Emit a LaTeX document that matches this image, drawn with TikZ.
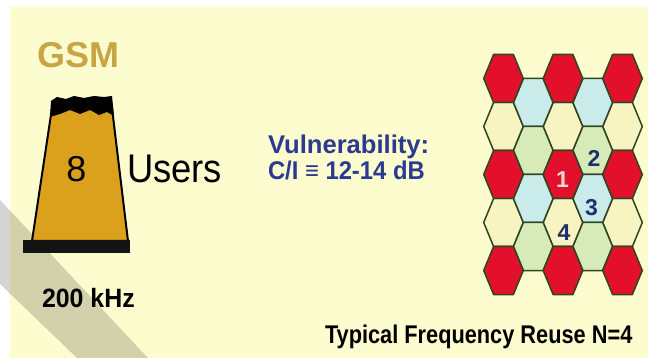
\documentclass[tikz,border=0pt]{standalone}
\usepackage{fontspec}
\usepackage{graphicx}
\setmainfont{Liberation Sans}
\definecolor{bgyellow}{HTML}{FDFCCE}
\definecolor{gsmgold}{HTML}{C8A648}
\definecolor{towerfill}{HTML}{DBA11C}
\definecolor{vulblue}{HTML}{2B3990}
\definecolor{numblue}{HTML}{1F2F6E}
\definecolor{hexred}{HTML}{E3102B}
\definecolor{hexblue}{HTML}{C9ECEA}
\definecolor{hexyellow}{HTML}{F7F4C2}
\definecolor{hexgreen}{HTML}{D6EBB8}
\definecolor{hexline}{HTML}{2E4522}
\definecolor{onepink}{HTML}{FAD6D6}
\newcommand{\hexcell}[3]{%
  \filldraw[#3] ({#1-19.8},{#2}) -- ({#1-9.9},{#2-24}) -- ({#1+9.9},{#2-24}) --
   ({#1+19.8},{#2}) -- ({#1+9.9},{#2+24}) -- ({#1-9.9},{#2+24}) -- cycle;}
\tikzset{
  txt/.style={inner sep=0pt, outer sep=0pt, text depth=0pt},
  tile/.style={draw=hexline, line width=1.5pt, line join=round},
  tblue/.style={tile, fill=hexblue},
  tyellow/.style={tile, fill=hexyellow},
  tgreen/.style={tile, fill=hexgreen},
  tred/.style={tile, fill=hexred},
  cellnum/.style={txt, font=\fontsize{23}{26}\selectfont\bfseries, text=numblue}
}
\begin{document}
\begin{tikzpicture}[x=1pt, y=-1pt]
\useasboundingbox (0,0) rectangle (648,358);
\fill[white] (0,0) rectangle (648,358);
\fill[bgyellow] (10,7) rectangle (648,358);
% diagonal grey band
\fill[black, opacity=0.17] (0,200) -- (148,358) -- (77,358) -- (0,284) -- cycle;
% tower
\filldraw[fill=towerfill, draw=black, line width=2pt, line join=round]
  (32,241) -- (52,108) -- (112,108) -- (128,241) -- cycle;
\fill[black] (50,117) -- (51,101) -- (57,97) -- (66,99) -- (74,96) -- (84,98) -- (94,96)
  -- (104,97) -- (112,96) -- (114,116) -- (107,112) -- (99,115) -- (90,110) -- (80,114)
  -- (70,110) -- (60,114) -- cycle;
\fill[black!92] (23,240) rectangle (130,253);
% texts left
\node[txt, anchor=base west, text=gsmgold, font=\fontsize{36}{40}\selectfont\bfseries] (gsm) at (37,68) {GSM};
\node[txt, anchor=base, font=\fontsize{36}{40}\selectfont] (eight) at (76.5,182) {8};
\node[txt, anchor=base west, font=\fontsize{40}{44}\selectfont] (users) at (127,183) {\scalebox{0.91}[1]{Users}};
\node[txt, anchor=base west, font=\fontsize{26.5}{30}\selectfont\bfseries] (bw) at (42,307) {\scalebox{0.94}[1]{200 kHz}};
% middle texts
\node[txt, anchor=base west, text=vulblue, font=\fontsize{25.6}{30}\selectfont\bfseries] (vul) at (268,153.3) {Vulnerability:};
\node[txt, anchor=base west, text=vulblue, font=\fontsize{25.6}{30}\selectfont\bfseries] (ci) at (268,180) {\scalebox{0.93}[1]{C/I ≡ 12-14 dB}};
\node[txt, anchor=base west, font=\fontsize{25.6}{30}\selectfont\bfseries] (reuse) at (325,343.3) {\scalebox{0.85}[1]{Typical Frequency Reuse N=4}};
% hex grid: non-red tiles
\hexcell{503.5}{126.5}{tyellow}
\hexcell{503.5}{222.5}{tyellow}
\hexcell{563}{126.5}{tyellow}
\hexcell{563}{222.5}{tyellow}
\hexcell{622.5}{126.5}{tyellow}
\hexcell{622.5}{222.5}{tyellow}
\hexcell{533.25}{102.5}{tblue}
\hexcell{533.25}{150.5}{tgreen}
\hexcell{533.25}{198.5}{tblue}
\hexcell{533.25}{246.5}{tgreen}
\hexcell{592.75}{102.5}{tblue}
\hexcell{592.75}{150.5}{tgreen}
\hexcell{592.75}{198.5}{tblue}
\hexcell{592.75}{246.5}{tgreen}
% red tiles
\hexcell{503.5}{78.5}{tred}
\hexcell{503.5}{174.5}{tred}
\hexcell{503.5}{270.5}{tred}
\hexcell{563}{78.5}{tred}
\hexcell{563}{174.5}{tred}
\hexcell{563}{270.5}{tred}
\hexcell{622.5}{78.5}{tred}
\hexcell{622.5}{174.5}{tred}
\hexcell{622.5}{270.5}{tred}
% cell numbers
\node[cellnum, text=onepink] (n1) at (562.5,180) {1};
\node[cellnum] (n2) at (594,158) {2};
\node[cellnum] (n3) at (591.5,207) {3};
\node[cellnum] (n4) at (564,233) {4};
\end{tikzpicture}
\end{document}
